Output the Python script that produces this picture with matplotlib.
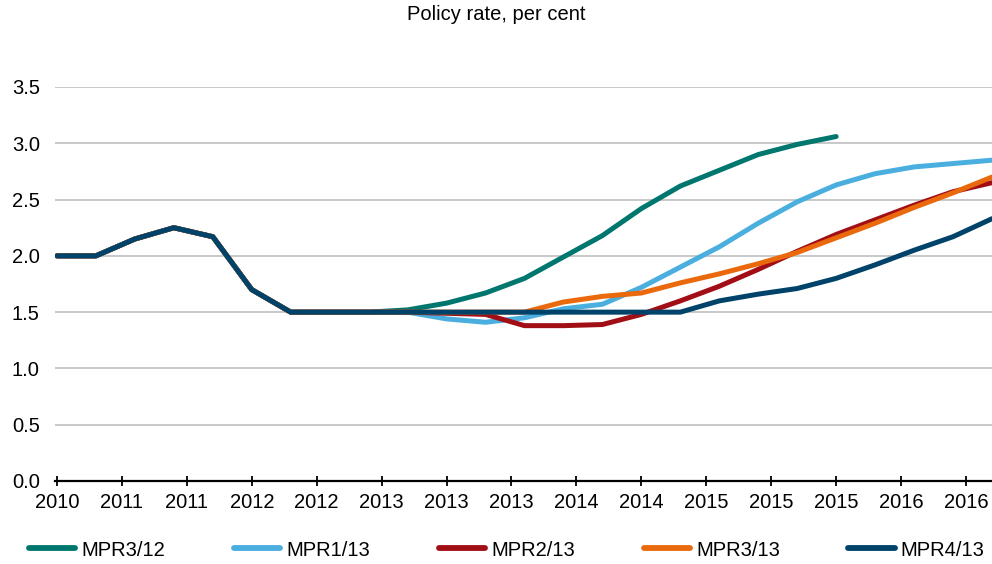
import numpy as np
import matplotlib
matplotlib.use("Agg")
import matplotlib.pyplot as plt

plt.rcParams['font.family'] = ['Liberation Sans', 'DejaVu Sans']

nan = np.nan
quarters = list(range(25))  # 2010Q4 .. 2016Q4
history = [2.0, 2.0, 2.15, 2.25, 2.17, 1.70, 1.50, 1.50, 1.50]

mpr3_12 = history + [1.52, 1.58, 1.67, 1.80, 1.99, 2.18, 2.42, 2.62, 2.76, 2.90, 2.99, 3.06,
                     nan, nan, nan, nan]
mpr1_13 = history + [1.50, 1.44, 1.41, 1.45, 1.53, 1.57, 1.72, 1.90, 2.08, 2.29, 2.48, 2.63,
                     2.73, 2.79, 2.82, 2.85]
mpr2_13 = history + [1.50, 1.49, 1.48, 1.38, 1.38, 1.39, 1.48, 1.60, 1.73, 1.88, 2.04, 2.19,
                     2.32, 2.45, 2.57, 2.65]
mpr3_13 = history + [1.50, 1.50, 1.50, 1.50, 1.59, 1.64, 1.67, 1.76, 1.84, 1.93, 2.03, 2.16,
                     2.29, 2.43, 2.56, 2.70]
mpr4_13 = history + [1.50, 1.50, 1.50, 1.50, 1.50, 1.50, 1.50, 1.50, 1.60, 1.66, 1.71, 1.80,
                     1.92, 2.05, 2.17, 2.33]

series_names = ['MPR3/12', 'MPR1/13', 'MPR2/13', 'MPR3/13', 'MPR4/13']
series_values = [mpr3_12, mpr1_13, mpr2_13, mpr3_13, mpr4_13]
colors = ['#00776E', '#4AAFDF', '#A20E16', '#E9690C', '#00436A']

xtick_labels = ['2010', '2011', '2011', '2012', '2012', '2013', '2013', '2013',
                '2014', '2014', '2015', '2015', '2015', '2016', '2016']
yticks = [0.0, 0.5, 1.0, 1.5, 2.0, 2.5, 3.0, 3.5]

FS = 14.5
fig = plt.figure(figsize=(9.92, 5.64), dpi=100)
W, H = 992, 564
ax = fig.add_axes([55 / W, (H - 481) / H, (992 - 55) / W, (481 - 87) / H])

for name, vals, c in zip(series_names, series_values, colors):
    ax.plot(quarters, vals, color=c, lw=3.6, label=name,
            solid_capstyle='round', solid_joinstyle='round', zorder=3)

ax.set_xlim(-0.05, 24)
ax.set_ylim(0, 3.5)
ax.set_yticks(yticks)
ax.set_yticklabels([f'{v:.1f}' for v in yticks])
ax.yaxis.grid(True, color='#C8C8C8', lw=1.4, zorder=0)
ax.set_axisbelow(True)

xt = [k * 5 / 3 for k in range(len(xtick_labels))]
ax.set_xticks(xt)
ax.set_xticklabels(xtick_labels)

for s in ['top', 'right', 'left']:
    ax.spines[s].set_visible(False)
ax.spines['bottom'].set_linewidth(1.6)
ax.spines['bottom'].set_color('black')
ax.spines['bottom'].set_zorder(5)

ax.tick_params(axis='x', direction='inout', length=7.5, width=1.3, pad=5.0,
               labelsize=FS, colors='black')
ax.tick_params(axis='y', length=0, pad=11, labelsize=FS, colors='black')

fig.text(0.5, 1 - 15 / H, 'Policy rate, per cent', ha='center', va='center', fontsize=FS)

leg = fig.legend(loc='center', bbox_to_anchor=(0.511, (H - 550) / H), ncol=5,
                 frameon=False, fontsize=FS, handlelength=2.3, handletextpad=0.3,
                 columnspacing=3.41)
for line in leg.get_lines():
    line.set_linewidth(4.2)
    line.set_solid_capstyle('round')

fig.savefig('out.png', dpi=100)
